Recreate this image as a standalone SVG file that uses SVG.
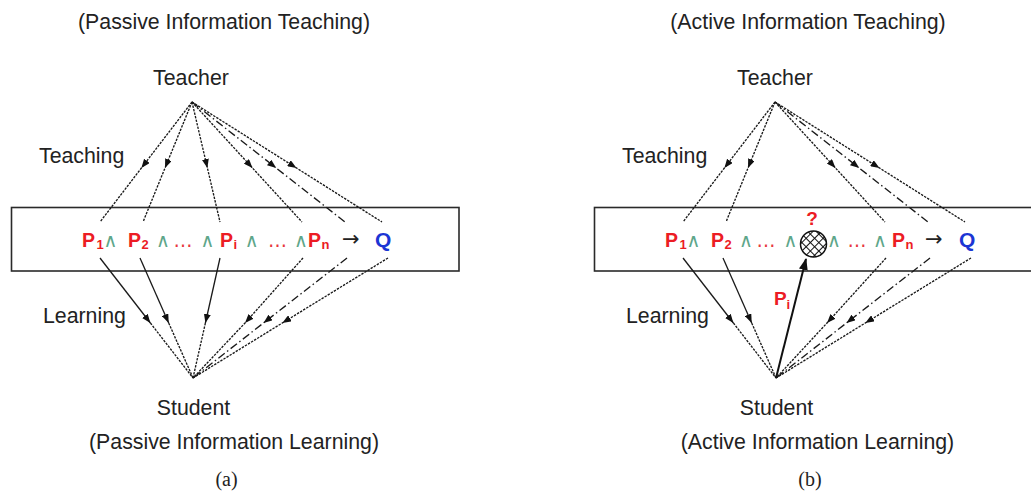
<svg xmlns="http://www.w3.org/2000/svg" width="1031" height="491" viewBox="0 0 1031 491">
<style>
.lbl{font-family:"Liberation Sans",Arial,sans-serif;font-size:21.3px;fill:#222}
.cap{font-family:"Liberation Serif","Times New Roman",serif;font-size:20px;fill:#222}
.P{font-family:"Liberation Sans",Arial,sans-serif;font-weight:bold;font-size:19.5px;fill:#ec1c24}
.sub{font-family:"Liberation Sans",Arial,sans-serif;font-weight:bold;font-size:13px;fill:#ec1c24}
.and{font-family:"DejaVu Sans",sans-serif;font-size:19px;fill:#5ea68a;text-anchor:middle}
.dots{font-family:"DejaVu Sans",sans-serif;font-size:19px;fill:#e8383e;text-anchor:middle}
.imp{font-family:"DejaVu Sans",sans-serif;font-size:21px;fill:#222}
.Q{font-family:"Liberation Sans",Arial,sans-serif;font-weight:bold;font-size:21px;fill:#1c35d4}
.box{fill:none;stroke:#2a2a2a;stroke-width:1.6}
.dot{fill:none;stroke:#1a1a1a;stroke-width:1.35;stroke-dasharray:2.4 1.2}
.dd{fill:none;stroke:#1a1a1a;stroke-width:1.35;stroke-dasharray:8 3 1.5 3}
.sol{fill:none;stroke:#1a1a1a;stroke-width:1.3}
</style>
<defs>
<marker id="ah" markerUnits="userSpaceOnUse" markerWidth="9" markerHeight="7" refX="9" refY="3.5" orient="auto">
<path d="M0,0 L9,3.5 L0,7 z" fill="#111"/>
</marker>
<marker id="ahb" markerUnits="userSpaceOnUse" markerWidth="12" markerHeight="9" refX="11" refY="4.5" orient="auto">
<path d="M0,0 L12,4.5 L0,9 z" fill="#111"/>
</marker>
<pattern id="hatch" patternUnits="userSpaceOnUse" width="6" height="6" patternTransform="rotate(45)">
<path d="M0,0.5 H6 M0.5,0 V6" stroke="#111" stroke-width="1"/>
</pattern>
</defs>

<!-- Panel (a) -->
<g id="title-a"><text class="lbl" x="224" y="29" text-anchor="middle">(Passive Information Teaching)</text></g>
<g id="teacher-a"><text class="lbl" x="191" y="84.5" text-anchor="middle">Teacher</text></g>
<g id="teaching-a"><text class="lbl" x="39" y="163">Teaching</text></g>
<g id="box-a">
<rect class="box" x="11.5" y="207.5" width="447.5" height="63.5"/>
<text class="P" x="82" y="247">P</text><text class="sub" x="96.5" y="248.5">1</text>
<text class="and" x="110.5" y="247">∧</text>
<text class="P" x="128" y="247">P</text><text class="sub" x="141.5" y="248.5">2</text>
<text class="and" x="163" y="247">∧</text>
<text class="dots" x="183" y="247">…</text>
<text class="and" x="207.4" y="247">∧</text>
<text class="P" x="220" y="247">P</text><text class="sub" x="233.5" y="248.5">i</text>
<text class="and" x="251.7" y="247">∧</text>
<text class="dots" x="277.5" y="247">…</text>
<text class="and" x="301" y="247">∧</text>
<text class="P" x="308" y="247">P</text><text class="sub" x="321.5" y="248.5">n</text>
<text class="imp" x="342" y="246">→</text>
<text class="Q" x="375" y="247">Q</text>
</g>
<g id="learning-a"><text class="lbl" x="43" y="323">Learning</text></g>
<g id="student-a"><text class="lbl" x="193.5" y="415" text-anchor="middle">Student</text></g>
<g id="subtitle-a"><text class="lbl" x="234" y="449" text-anchor="middle">(Passive Information Learning)</text></g>
<g id="caption-a"><text class="cap" x="226.5" y="486" text-anchor="middle">(a)</text></g>

<!-- Panel (b) -->
<g id="title-b"><text class="lbl" x="808" y="29" text-anchor="middle">(Active Information Teaching)</text></g>
<g id="teacher-b"><text class="lbl" x="775" y="84.5" text-anchor="middle">Teacher</text></g>
<g id="teaching-b"><text class="lbl" x="622" y="163">Teaching</text></g>
<g id="box-b">
<rect class="box" x="594.5" y="207.5" width="447.5" height="63.5"/>
<text class="P" x="665" y="247">P</text><text class="sub" x="679.5" y="248.5">1</text>
<text class="and" x="693.5" y="247">∧</text>
<text class="P" x="711" y="247">P</text><text class="sub" x="724.5" y="248.5">2</text>
<text class="and" x="746" y="247">∧</text>
<text class="dots" x="766" y="247">…</text>
<text class="and" x="790.4" y="247">∧</text>
<circle cx="813.5" cy="244" r="13" fill="url(#hatch)" stroke="#111" stroke-width="1.5"/>
<text x="812" y="225" style="font-family:'Liberation Sans',Arial,sans-serif;font-weight:bold;font-size:19px;fill:#ec1c24" text-anchor="middle">?</text>
<text class="and" x="834" y="247">∧</text>
<text class="dots" x="857" y="247">…</text>
<text class="and" x="880" y="247">∧</text>
<text class="P" x="892" y="247">P</text><text class="sub" x="905.5" y="248.5">n</text>
<text class="imp" x="925" y="246">→</text>
<text class="Q" x="959" y="247">Q</text>
</g>
<g id="learning-b"><text class="lbl" x="626" y="323">Learning</text></g>
<g id="pi-label-b"><text class="P" x="774" y="305" style="font-size:19px">P</text><text class="sub" x="786.5" y="309">i</text></g>
<g id="student-b"><text class="lbl" x="776.5" y="415" text-anchor="middle">Student</text></g>
<g id="subtitle-b"><text class="lbl" x="817.5" y="449" text-anchor="middle">(Active Information Learning)</text></g>
<g id="caption-b"><text class="cap" x="810" y="486" text-anchor="middle">(b)</text></g>

<g id="connectors">
<!-- (a) teaching -->
<polyline class="dot" points="192,102 141.4,168 100,222" marker-mid="url(#ah)"/>
<polyline class="dot" points="192,102 165,168 143,222" marker-mid="url(#ah)"/>
<polyline class="dot" points="192,102 207.4,168 220,222" marker-mid="url(#ah)"/>
<polyline class="dot" points="192,102 252.5,168 302,222" marker-mid="url(#ah)"/>
<polyline class="dd" points="192,102 276.2,168 345,222" marker-mid="url(#ah)"/>
<polyline class="dot" points="192,102 296.5,168 382,222" marker-mid="url(#ah)"/>
<!-- (a) learning -->
<path class="sol" d="M100,258 L150.4,323" marker-end="url(#ah)"/><path class="dot" d="M150.4,323 L193,378"/>
<path class="sol" d="M140,258 L168.7,323" marker-end="url(#ah)"/><path class="dot" d="M168.7,323 L193,378"/>
<path class="sol" d="M220,258 L205.4,323" marker-end="url(#ah)"/><path class="dot" d="M205.4,323 L193,378"/>
<polyline class="dot" points="303,258 245,323 193,378" marker-mid="url(#ah)"/>
<polyline class="dd" points="347,258 263.5,323 193,378" marker-mid="url(#ah)"/>
<polyline class="dot" points="388,258 282.3,323 193,378" marker-mid="url(#ah)"/>
<!-- (b) teaching -->
<polyline class="dot" points="775,102 724.4,168 683,222" marker-mid="url(#ah)"/>
<polyline class="dot" points="775,102 748,168 726,222" marker-mid="url(#ah)"/>
<polyline class="dot" points="775,102 835.5,168 885,222" marker-mid="url(#ah)"/>
<polyline class="dd" points="775,102 859.2,168 928,222" marker-mid="url(#ah)"/>
<polyline class="dot" points="775,102 879.5,168 965,222" marker-mid="url(#ah)"/>
<!-- (b) learning -->
<path class="sol" d="M683,258 L733.4,323" marker-end="url(#ah)"/><path class="dot" d="M733.4,323 L776,378"/>
<path class="sol" d="M723,258 L751.7,323" marker-end="url(#ah)"/><path class="dot" d="M751.7,323 L776,378"/>
<polyline class="dot" points="886,258 827,323 776,378" marker-mid="url(#ah)"/>
<polyline class="dd" points="930,258 846.5,323 776,378" marker-mid="url(#ah)"/>
<polyline class="dot" points="971,258 865.3,323 776,378" marker-mid="url(#ah)"/>
<!-- (b) active query -->
<path d="M776,378 L806,259" fill="none" stroke="#111" stroke-width="2" marker-end="url(#ahb)"/>
</g>
</svg>
